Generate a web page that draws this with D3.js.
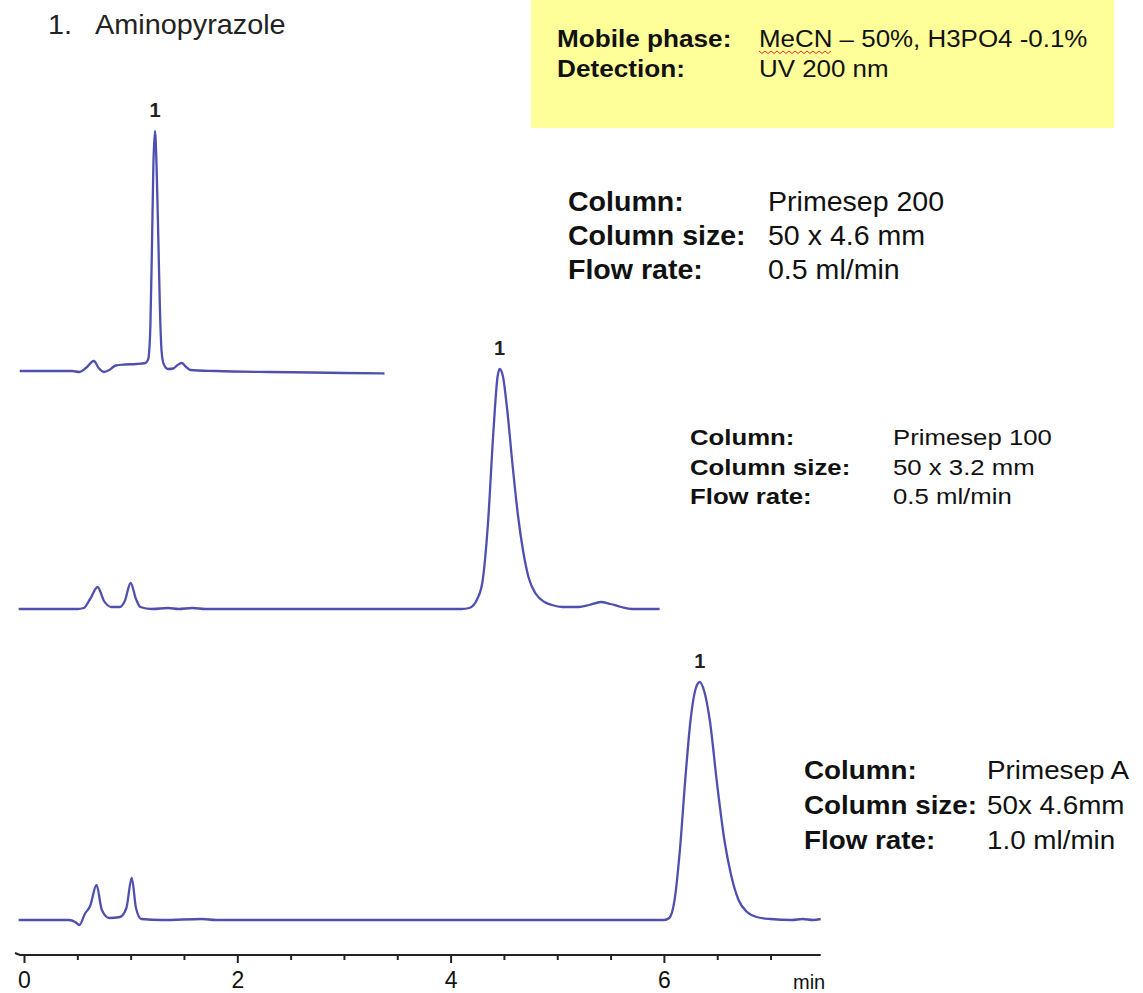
<!DOCTYPE html>
<html>
<head>
<meta charset="utf-8">
<script src="https://cdn.jsdelivr.net/npm/d3@7"></script>
<style>
body { margin: 0; background: #fff; }
text { font-family: "Liberation Sans", Arial, sans-serif; fill: #111; }
</style>
</head>
<body>
<script>
// retention time (min) and signal above baseline
var time200 = [-0.04, 0.45, 0.52, 0.58, 0.655, 0.7, 0.75, 0.8, 0.86, 0.95, 1.05, 1.14, 1.165, 1.185, 1.2, 1.213, 1.228, 1.243, 1.26, 1.275, 1.29, 1.31, 1.35, 1.4, 1.44, 1.48, 1.52, 1.56, 1.8, 2.3, 2.7, 3.0, 3.38];
var signal200 = [0, 0, -1, 3, 10, 3, -1, 1, 5.5, 6.5, 7, 8, 12, 45, 125, 205, 240, 205, 130, 60, 20, 7, 2, 2.5, 6, 8, 4, 1, 0, -1, -1.5, -2, -2.5];

var time100 = [-0.05, 0.5, 0.56, 0.62, 0.69, 0.75, 0.82, 0.9, 0.945, 1.0, 1.05, 1.09, 1.2, 1.35, 1.45, 1.58, 1.7, 4.1, 4.175, 4.25, 4.3, 4.35, 4.4, 4.44, 4.46, 4.49, 4.53, 4.58, 4.63, 4.68, 4.73, 4.8, 4.88, 4.95, 5.05, 5.2, 5.3, 5.41, 5.5, 5.6, 5.7, 5.96];
var signal100 = [0, 0, 1, 10, 22, 8, 2, 2, 8, 26, 10, 2, 0, 1, 0, 1, 0, 0, 1, 10, 28, 85, 175, 232, 240, 233, 200, 145, 95, 58, 32, 15, 7, 4, 2, 2, 4, 7, 5, 2, 0, 0];

var timeA = [-0.05, 0.42, 0.48, 0.52, 0.57, 0.62, 0.68, 0.73, 0.8, 0.9, 0.96, 1.01, 1.05, 1.1, 1.3, 1.67, 1.8, 3.4, 3.5, 6.0, 6.05, 6.1, 6.15, 6.2, 6.25, 6.3, 6.336, 6.38, 6.43, 6.5, 6.57, 6.63, 6.7, 6.78, 6.87, 7.0, 7.2, 7.3, 7.4, 7.47];
var signalA = [0, 0, -2, -5, 6, 14, 35, 10, 2, 3, 12, 42, 12, 1, 0, 1, 0, 0, 0, 0, 2, 20, 70, 140, 200, 232, 238, 228, 200, 135, 78, 45, 20, 8, 3, 1, 0, 1, 0, 1];

var peakLabel = "1";
var majorTicks = [0, 2, 4, 6];
var minorTicks = [0.5, 1, 1.5, 2.5, 3, 3.5, 4.5, 5, 5.5, 6.5, 7];
var columnNames = ["Primesep 200", "Primesep 100", "Primesep A"];
var columnSizes = ["50 x 4.6 mm", "50 x 3.2 mm", "50x 4.6mm"];
var flowRates = ["0.5 ml/min", "0.5 ml/min", "1.0 ml/min"];

var w = 1143;
var h = 993;

var svg = d3.select("body")
	.append("svg")
	.attr("width", w)
	.attr("height", h);

var x = d3.scaleLinear().domain([0, 7.5]).range([24, 24 + 7.5 * 106.65]);
var y = d3.scaleLinear().domain([0, 250]).range([0, -250]);

var line = d3.line()
	.x(function(d){ return x(d[0]); })
	.y(function(d){ return y(d[1]); })
	.curve(d3.curveMonotoneX);

function put(g, px, py, str, size, bold, sx) {
	return g.append("text")
		.attr("transform", "translate(" + px + "," + py + ") scale(" + sx + ",1)")
		.style("font-size", size + "px")
		.style("font-weight", bold ? "bold" : "normal")
		.text(str);
}

// title
put(svg, 48, 34, "1.", 28, false, 1.03).style("fill", "#222");
put(svg, 95, 34, "Aminopyrazole", 28, false, 1.03).style("fill", "#222");

// yellow conditions box
svg.append("rect")
	.attr("x", 531).attr("y", 0)
	.attr("width", 583).attr("height", 128)
	.style("fill", "#ffff99");
put(svg, 557, 47, "Mobile phase:", 24, true, 1.09);
put(svg, 759, 47, "MeCN \u2013 50%, H3PO4 -0.1%", 24, false, 1.08);
put(svg, 557, 77, "Detection:", 24, true, 1.09);
put(svg, 759, 77, "UV 200 nm", 24, false, 1.08);
// spell-check squiggle under MeCN
var sq = "M759,51";
for (var i = 0; i < 24; i++) {
	sq += " L" + (759 + (i + 1) * 3) + "," + (i % 2 ? 51 : 53.5);
}
svg.append("path").attr("d", sq).style("fill", "none").style("stroke", "#e03030").style("stroke-width", 1);

// traces
var traces = [
	{ t: time200, s: signal200, base: 371, tx: 568, ty: 211, vx: 768, size: 28, sx: 1.02, gap: 34 },
	{ t: time100, s: signal100, base: 609, tx: 690, ty: 445, vx: 893, size: 23, sx: 1.12, gap: 29.5 },
	{ t: timeA, s: signalA, base: 920, tx: 804, ty: 779, vx: 987, size: 26, sx: 1.07, gap: 35 }
];

traces.forEach(function(tr, k){
	var g = svg.append("g").attr("transform", "translate(0," + tr.base + ")");
	g.append("path")
		.attr("d", line(d3.zip(tr.t, tr.s)))
		.style("fill", "none")
		.style("stroke", "#4f4fb0")
		.style("stroke-width", 2.3)
		.style("stroke-linejoin", "round");
	var top = d3.maxIndex(tr.s);
	g.append("text")
		.attr("x", x(tr.t[top]))
		.attr("y", y(tr.s[top]) - 14)
		.style("text-anchor", "middle")
		.style("font-size", "20px")
		.style("font-weight", "bold")
		.style("fill", "#222")
		.text(peakLabel);

	put(svg, tr.tx, tr.ty, "Column:", tr.size, true, tr.sx);
	put(svg, tr.tx, tr.ty + tr.gap, "Column size:", tr.size, true, tr.sx);
	put(svg, tr.tx, tr.ty + 2 * tr.gap, "Flow rate:", tr.size, true, tr.sx);
	put(svg, tr.vx, tr.ty, columnNames[k], tr.size, false, tr.sx);
	put(svg, tr.vx, tr.ty + tr.gap, columnSizes[k], tr.size, false, tr.sx);
	put(svg, tr.vx, tr.ty + 2 * tr.gap, flowRates[k], tr.size, false, tr.sx);
});

// time axis
var ay = 955;
var axisG = svg.append("g").attr("transform", "translate(0," + ay + ")");
axisG.append("path")
	.attr("d", "M15,-2 L20,0 L" + x(7.47) + ",0")
	.style("fill", "none").style("stroke", "#222").style("stroke-width", 2);
axisG.call(d3.axisBottom(x).tickValues(minorTicks).tickSize(5).tickFormat(""))
	.call(function(g){ g.select(".domain").remove(); });
var major = svg.append("g").attr("transform", "translate(0," + ay + ")")
	.call(d3.axisBottom(x).tickValues(majorTicks).tickSize(8).tickPadding(9).tickFormat(d3.format("d")));
major.select(".domain").remove();
svg.selectAll(".tick line").style("stroke", "#222").style("stroke-width", 2);
major.selectAll(".tick text")
	.style("font-size", "23px")
	.style("font-family", "'Liberation Sans', Arial, sans-serif")
	.style("fill", "#111");
svg.append("text")
	.attr("x", 793).attr("y", 989)
	.style("font-size", "20px")
	.text("min");
</script>
</body>
</html>
